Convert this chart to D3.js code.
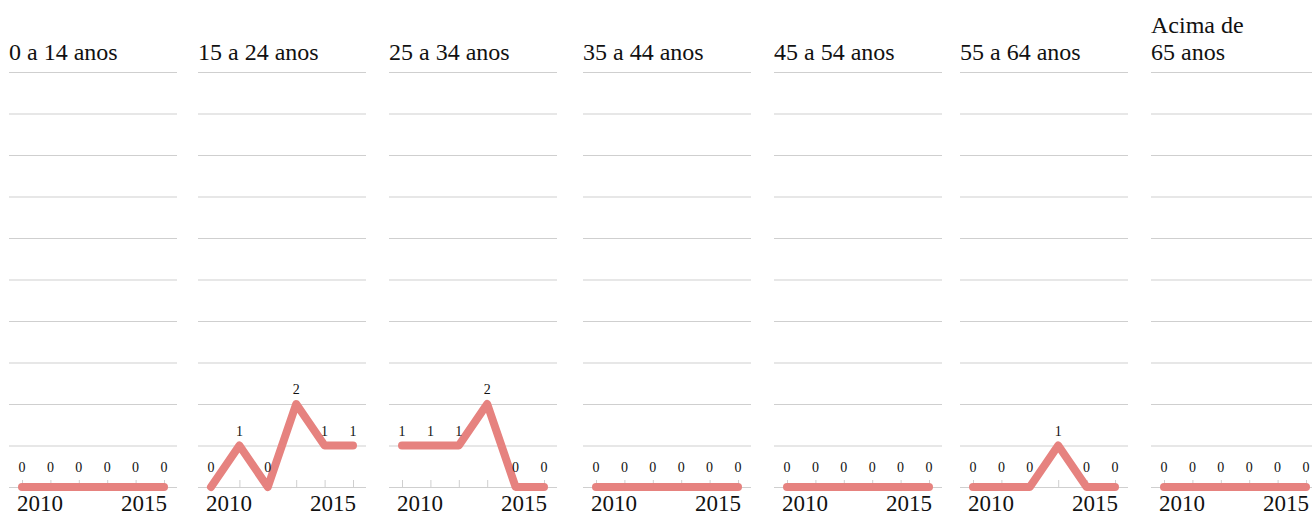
<!DOCTYPE html>
<html>
<head>
<meta charset="utf-8">
<script src="https://cdn.jsdelivr.net/npm/d3@7"></script>
<style>
body{margin:0;background:#fff;}
text{font-family:"Liberation Serif",serif;fill:#111;}
</style>
</head>
<body>
<div id="chart"></div>
<script>
// data
const years=[2010,2011,2012,2013,2014,2015];
const groups=["0 a 14 anos","15 a 24 anos","25 a 34 anos","35 a 44 anos","45 a 54 anos","55 a 64 anos","Acima de 65 anos"];
const titleLines=[["0 a 14 anos"],["15 a 24 anos"],["25 a 34 anos"],["35 a 44 anos"],["45 a 54 anos"],["55 a 64 anos"],["Acima de","65 anos"]];
const v0a14=[0,0,0,0,0,0];
const v15a24=[0,1,0,2,1,1];
const v25a34=[1,1,1,2,0,0];
const v35a44=[0,0,0,0,0,0];
const v45a54=[0,0,0,0,0,0];
const v55a64=[0,0,0,1,0,0];
const v65mais=[0,0,0,0,0,0];
const seriesList=[v0a14,v15a24,v25a34,v35a44,v45a54,v55a64,v65mais];
const yTicks=d3.range(0,11);
const yearLabels=[2010,2015];

// layout
const svgWidth=1312, svgHeight=516;
const panelLeft=[9,198,389,583,774,960,1151];
const panelW=168;
const plotTop=72, plotBottom=487;

const svg=d3.select("#chart").append("svg")
  .attr("width",svgWidth).attr("height",svgHeight);

const x=d3.scalePoint().domain(years).range([13,155]);
const y=d3.scaleLinear().domain([0,10]).range([plotBottom,plotTop]);

groups.forEach((g,i)=>{
  const data=years.map((yr,j)=>({year:yr,value:seriesList[i][j]}));
  const p=svg.append("g").attr("transform",`translate(${panelLeft[i]},0)`);

  // grid
  p.selectAll("line.grid").data(yTicks).enter().append("line")
    .attr("class","grid")
    .attr("x1",0).attr("x2",panelW)
    .attr("y1",d=>y(d)+0.5).attr("y2",d=>y(d)+0.5)
    .attr("stroke","#cfcfcf").attr("stroke-width",1);

  // title
  const lines=titleLines[i];
  p.selectAll("text.title").data(lines).enter().append("text")
    .attr("class","title")
    .attr("x",0)
    .attr("y",(d,k)=>60-(lines.length-1-k)*27)
    .attr("font-size","24px")
    .text(d=>d);

  // x ticks
  p.selectAll("line.tick").data(years).enter().append("line")
    .attr("x1",d=>x(d)+0.5).attr("x2",d=>x(d)+0.5)
    .attr("y1",plotBottom-7).attr("y2",plotBottom)
    .attr("stroke","#cfcfcf");

  // line
  p.append("path").datum(data)
    .attr("fill","none")
    .attr("stroke","#e6827f")
    .attr("stroke-width",8)
    .attr("stroke-linecap","round")
    .attr("stroke-linejoin","round")
    .attr("d",d3.line().x(d=>x(d.year)).y(d=>y(d.value)));

  // value labels
  p.selectAll("text.val").data(data).enter().append("text")
    .attr("class","val")
    .attr("x",d=>x(d.year))
    .attr("y",d=>Math.min(y(d.value)-10,472))
    .attr("text-anchor","middle")
    .attr("font-size","14px")
    .text(d=>d.value);

  // year labels
  p.selectAll("text.yr").data(yearLabels).enter().append("text")
    .attr("class","yr")
    .attr("x",(d,k)=>k===0?x(d)-5:x(d)+3)
    .attr("y",511)
    .attr("text-anchor",(d,k)=>k===0?"start":"end")
    .attr("font-size","23px")
    .text(d=>d);
});
</script>
</body>
</html>
